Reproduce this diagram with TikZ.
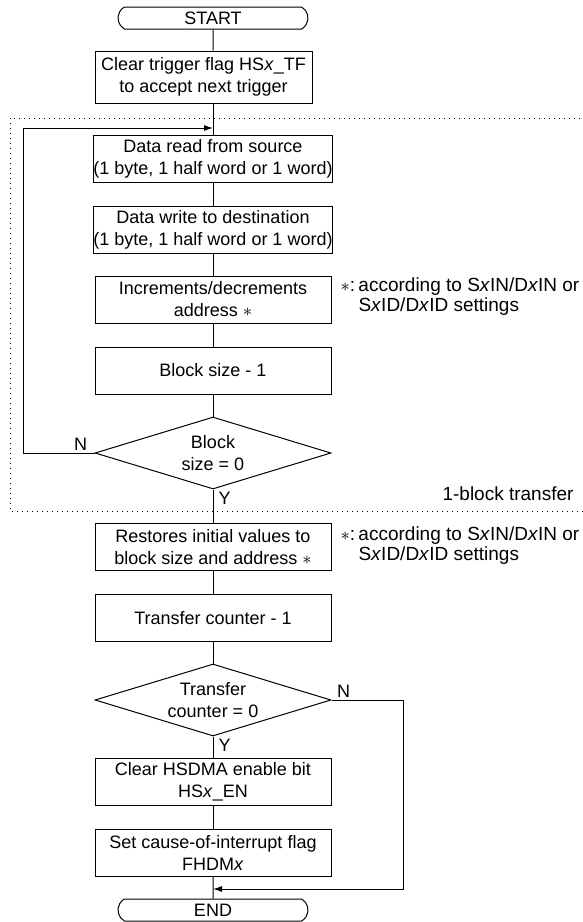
\documentclass[tikz,border=0pt]{standalone}
\usepackage{fontspec}
\setmainfont{Liberation Sans}
\usetikzlibrary{shapes.misc,shapes.geometric,positioning,arrows.meta}

\begin{document}
\begin{tikzpicture}[>={Latex[length=4.5pt,width=3pt]}, x=0.5pt, y=-0.5pt, line width=0.5pt,
    font=\fontsize{9}{11}\selectfont,
    term/.style={draw, rounded rectangle, rounded rectangle arc length=120, minimum width=95pt, minimum height=11pt, inner sep=0pt},
    proc/.style={draw, align=center, minimum width=118pt, minimum height=23.5pt, inner xsep=0pt, inner ysep=1pt},
    cond/.style={draw, diamond, minimum width=118pt, minimum height=36pt, inner sep=0pt},
    condtext/.style={align=center, inner sep=0pt},
    yn/.style={inner sep=1pt},
    note/.style={anchor=west, inner sep=0pt, font=\fontsize{9.5}{10}\selectfont}]
      \useasboundingbox (0,0) rectangle (583,922);

      % Draw the start and the trigger flag box
      \node[term] at (213,18) (start) {START};
      \node[proc, minimum width=108.5pt, minimum height=26pt] at (203.5,77) (clr) {Clear trigger flag HS\textit{x}\_TF\\to accept next trigger};

      % Draw the 1-block transfer frame
      \draw[dotted] (590,118) -- (10,118) -- (10,511) -- (590,511);
      \node[anchor=base east, inner sep=0pt, font=\fontsize{9.5}{11}\selectfont] at (574,500) (blklbl) {1-block transfer};

      % Draw the block loop
      \node[proc] at (213,158.5) (rd) {Data read from source\\(1 byte, 1 half word or 1 word)};
      \node[proc] at (213,229.5) (wr) {Data write to destination\\(1 byte, 1 half word or 1 word)};
      \node[proc] at (213,299.5) (inc) {Increments/decrements\\address $\ast$};
      \node[proc] at (213,370.5) (bsz) {Block size - 1};
      \node[cond] at (213,453) (blk) {};
      \node[condtext] at (blk) (blktxt) {Block\\size = 0};
      \node[yn, anchor=south east] at ([xshift=-2.5pt]blk.west) (blkN) {N};
      \node[yn, anchor=north west] at ([xshift=1.5pt]blk.south) (blkY) {Y};

      % Draw the notes
      \node[note] at (340,297) (note1) {\begin{tabular}{@{}p{9pt}@{}l@{}}$\ast$: & according to S\textit{x}IN/D\textit{x}IN or\\ & S\textit{x}ID/D\textit{x}ID settings\end{tabular}};
      \node[note] at (340,546) (note2) {\begin{tabular}{@{}p{9pt}@{}l@{}}$\ast$: & according to S\textit{x}IN/D\textit{x}IN or\\ & S\textit{x}ID/D\textit{x}ID settings\end{tabular}};

      % Draw the counter part
      \node[proc] at (213,547) (rst) {Restores initial values to\\block size and address $\ast$};
      \node[proc] at (213,618) (tcnt) {Transfer counter - 1};
      \node[cond] at (213,700) (cnt) {};
      \node[condtext] at (cnt) (cnttxt) {Transfer\\counter = 0};
      \node[yn, anchor=south west] at ([xshift=1.5pt]cnt.east) (cntN) {N};
      \node[yn, anchor=north west] at ([xshift=1.5pt]cnt.south) (cntY) {Y};
      \node[proc] at (213,782) (dis) {Clear HSDMA enable bit\\HS\textit{x}\_EN};
      \node[proc] at (213,852.5) (flg) {Set cause-of-interrupt flag\\FHDM\textit{x}};
      \node[term] at (213,910) (end) {END};

      % Draw the straight connectors
      \draw (start) -- (start |- clr.north);
      \draw (start |- clr.south) -- (rd);
      \draw (rd) -- (wr);
      \draw (wr) -- (inc);
      \draw (inc) -- (bsz);
      \draw (bsz) -- (blk);
      \draw (blk) -- (rst);
      \draw (rst) -- (tcnt);
      \draw (tcnt) -- (cnt);
      \draw (cnt) -- (dis);
      \draw (dis) -- (flg);
      \draw (flg) -- (end);

      % Draw the loop back and the skip arrow
      \coordinate (join) at (213,128);
      \coordinate (back) at (23,128);
      \draw[->] (blk.west) -| (back) -- (join);
      \coordinate (side) at (403,700);
      \coordinate (merge) at (213,889);
      \draw[->] (cnt.east) -- (side) |- (merge);
    \end{tikzpicture}
\end{document}
